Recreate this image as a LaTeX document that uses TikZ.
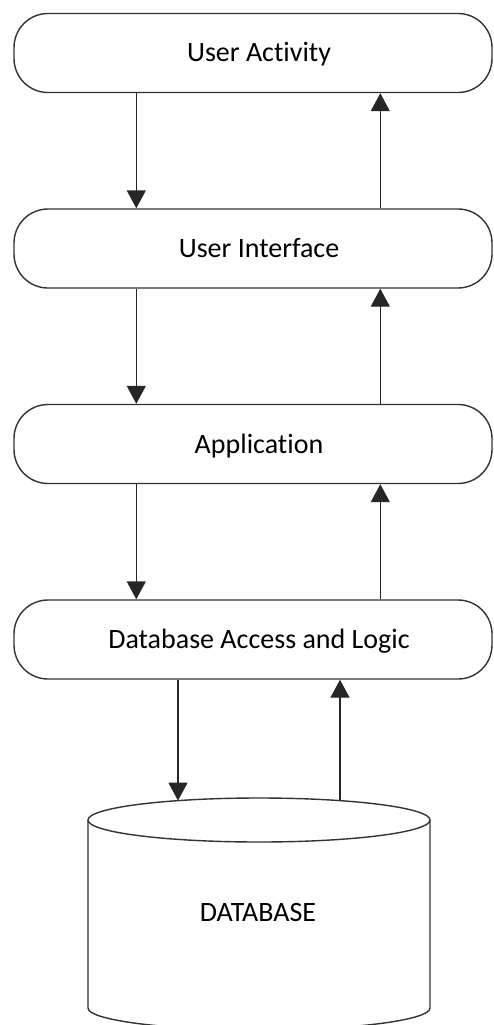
\documentclass[tikz,border=0pt]{standalone}
\usepackage{fontspec}
\setmainfont{Carlito}[Ligatures=NoCommon]
\usetikzlibrary{arrows.meta}
\tikzset{
  layer/.style={draw=black!80, line width=1.4pt, rounded corners=34pt,
    minimum width=478pt, minimum height=79pt, inner sep=0pt,
    text height=18pt, text depth=0pt,
    font=\fontsize{28}{32}\selectfont},
  flow/.style={draw=black!85, line width=1.4pt, -{Triangle[length=18pt,width=19pt]}},
  dbline/.style={draw=black!80, line width=1.4pt},
  dblabel/.style={text height=18pt, text depth=0pt, inner sep=0pt,
    font=\fontsize{28}{32}\selectfont}
}
\begin{document}
\begin{tikzpicture}[x=1pt,y=-1pt]
\useasboundingbox (0,0) rectangle (493,1025);

% the four layers
\node[layer] (ua)  at (253,53)    {\hspace*{12pt}User Activity};
\node[layer] (ui)  at (253,248.5) {\hspace*{12pt}User Interface};
\node[layer] (app) at (253,444)   {\hspace*{12pt}Application};
\node[layer] (dal) at (253,639.5) {\hspace*{12pt}Database Access and Logic};

% database cylinder
\draw[dbline, fill=white] (88,820) -- (88,1008)
  arc[start angle=180, end angle=0, x radius=171, y radius=22] -- (430,820);
\draw[dbline, fill=white] (259,820) ellipse[x radius=171, y radius=22];
\node[dblabel] (db) at (258,912.5) {DATABASE};
\coordinate (dbin)  at (178,800.6);
\coordinate (dbout) at (340,800.6);

% requests going down, results coming up
\draw[flow] ([xshift=123pt]ua.south west)  -- ([xshift=123pt]ui.north west);
\draw[flow] ([xshift=367pt]ui.north west)  -- ([xshift=367pt]ua.south west);
\draw[flow] ([xshift=123pt]ui.south west)  -- ([xshift=123pt]app.north west);
\draw[flow] ([xshift=367pt]app.north west) -- ([xshift=367pt]ui.south west);
\draw[flow] ([xshift=123pt]app.south west) -- ([xshift=123pt]dal.north west);
\draw[flow] ([xshift=367pt]dal.north west) -- ([xshift=367pt]app.south west);
\draw[flow] ([xshift=-75pt]dal.south) -- (dbin);
\draw[flow] (dbout) -- ([xshift=87pt]dal.south);
\end{tikzpicture}
\end{document}
